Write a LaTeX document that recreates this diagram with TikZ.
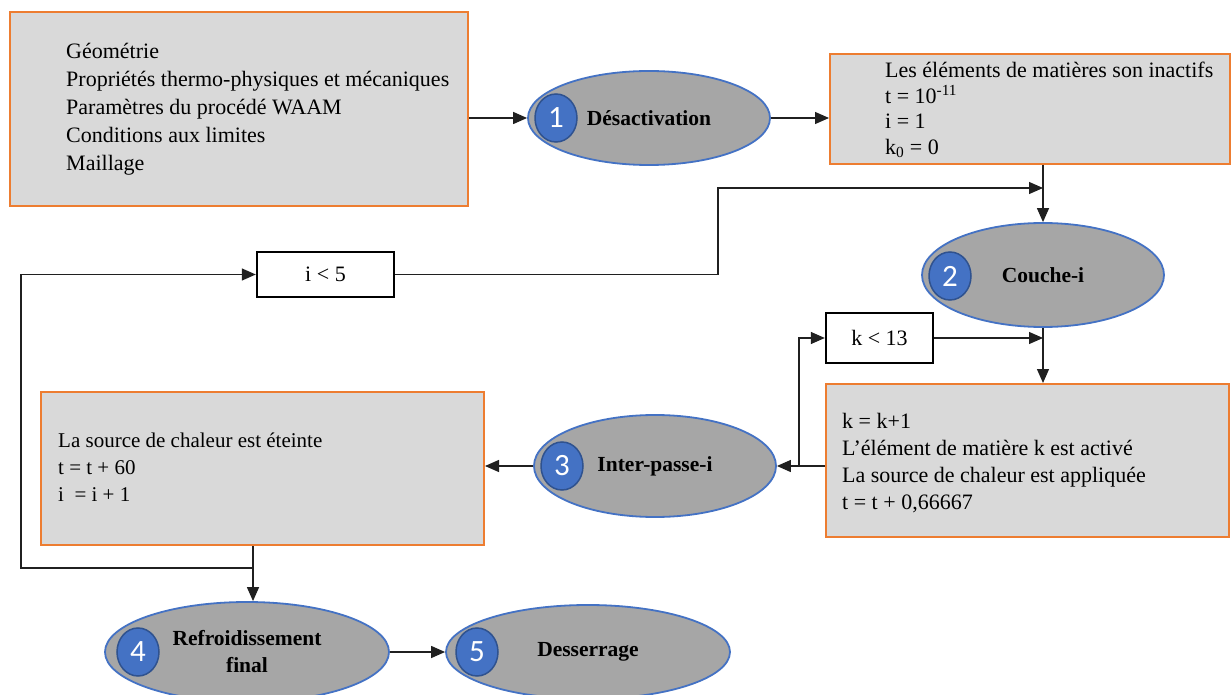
\documentclass[tikz,border=0pt]{standalone}
\usepackage{fontspec}
\setmainfont{Liberation Serif}
\newfontfamily\numfont{Carlito}
\usetikzlibrary{arrows.meta,shapes.geometric,calc}
\definecolor{boxfill}{HTML}{D9D9D9}
\definecolor{boxedge}{HTML}{ED7D31}
\definecolor{ellfill}{HTML}{A6A6A6}
\definecolor{elledge}{HTML}{4472C4}
\definecolor{numfill}{HTML}{4472C4}
\definecolor{numedge}{HTML}{2F528F}
\definecolor{linecol}{HTML}{202020}
\begin{document}
\begin{tikzpicture}[x=1pt,y=-1pt,
  infobox/.style={draw=boxedge,fill=boxfill,line width=2pt,inner sep=0pt},
  condbox/.style={draw=black,fill=white,line width=2.4pt,inner sep=0pt,font=\fontsize{22}{26}\selectfont},
  stage/.style={ellipse,draw=elledge,fill=ellfill,line width=1.8pt,inner sep=0pt,font=\bfseries\fontsize{21.5}{27}\selectfont,align=center},
  num/.style={ellipse,draw=numedge,fill=numfill,line width=1.5pt,minimum width=42pt,minimum height=48pt,inner sep=0pt,text=white,font=\numfont\fontsize{31}{31}\selectfont},
  txt/.style={anchor=west,align=left,inner sep=0pt},
  link/.style={draw=linecol,line width=1.3pt},
  arr/.style={link,-{Triangle[length=14pt,width=12pt]}}
]
\fill[white] (0,0) rectangle (1232,695);
\useasboundingbox (0,0) rectangle (1232,695);

% boxes
\node[infobox,minimum width=458pt,minimum height=194pt] (boxA) at (239,109) {};
\node[txt,font=\fontsize{22}{28}\selectfont] (textA) at (66,109) {Géométrie\\Propriétés thermo-physiques et mécaniques\\Paramètres du procédé WAAM\\Conditions aux limites\\Maillage};

\node[infobox,minimum width=400pt,minimum height=110pt] (boxB) at (1030,109) {};
\node[txt,font=\fontsize{22}{25.5}\selectfont] (textB) at (885,110) {Les éléments de matières son inactifs\\t = 10\textsuperscript{-11}\\i = 1\\k\textsubscript{0} = 0};

\node[infobox,minimum width=403pt,minimum height=153pt] (boxC) at (1027.5,460.5) {};
\node[txt,font=\fontsize{22}{27}\selectfont] (textC) at (842,463) {k = k+1\\L’élément de matière k est activé\\La source de chaleur est appliquée\\t = t + 0,66667};

\node[infobox,minimum width=443pt,minimum height=153pt] (boxD) at (262.5,468.5) {};
\node[txt,font=\fontsize{21}{27}\selectfont] (textD) at (58,467) {La source de chaleur est éteinte\\t = t + 60\\i\ \ = i + 1};

% condition boxes
\node[condbox,minimum width=137pt,minimum height=45pt] (ibox) at (325.5,274.5) {i < 5};
\node[condbox,minimum width=107pt,minimum height=50pt] (kbox) at (879.5,338) {k < 13};

% stages
\node[stage,minimum width=242pt,minimum height=94pt] (e1) at (649,118) {Désactivation};
\node[num] (n1) at (556,118) {1};
\node[stage,minimum width=242pt,minimum height=104pt] (e2) at (1043,275) {Couche-i};
\node[num] (n2) at (950,276) {2};
\node[stage,minimum width=242pt,minimum height=102pt] (e3) at (655,466) {Inter-passe-i};
\node[num] (n3) at (562,466) {3};
\node[stage,minimum width=284pt,minimum height=100pt] (e4) at (247,652) {Refroidissement\\final};
\node[num] (n4) at (138,652) {4};
\node[stage,minimum width=284pt,minimum height=94pt] (e5) at (588,652) {Desserrage};
\node[num] (n5) at (477,652) {5};

% connectors
\coordinate (jB) at (1043,188);
\coordinate (bendA) at (718,188);
\coordinate (jC) at (799,466);
\coordinate (jD) at (253,568);
\coordinate (bendB) at (21,568);

\draw[arr] (boxA.east |- e1.west) -- (e1.west);
\draw[arr] (e1.east) -- (boxB.west |- e1.east);
\draw[arr] (e2.north |- boxB.south) -- (e2.north);
\draw[arr] (ibox.east) -| (bendA) -- (jB);
\draw[arr] (e2.south) -- (e2.south |- boxC.north);
\draw[arr] (kbox.east) -- (kbox.east -| e2.south);
\draw[link] (boxC.west |- jC) -- (jC);
\draw[arr] (jC) -- (e3.east);
\draw[arr] (jC) |- (kbox.west);
\draw[arr] (e3.west) -- (boxD.east |- e3.west);
\draw[link] (boxD.south -| jD) -- (jD);
\draw[arr] (jD) -- (jD |- e4.north);
\draw[arr] (jD) -- (bendB) |- (ibox.west);
\draw[arr] (e4.east) -- (e5.west |- e4.east);
\end{tikzpicture}
\end{document}
